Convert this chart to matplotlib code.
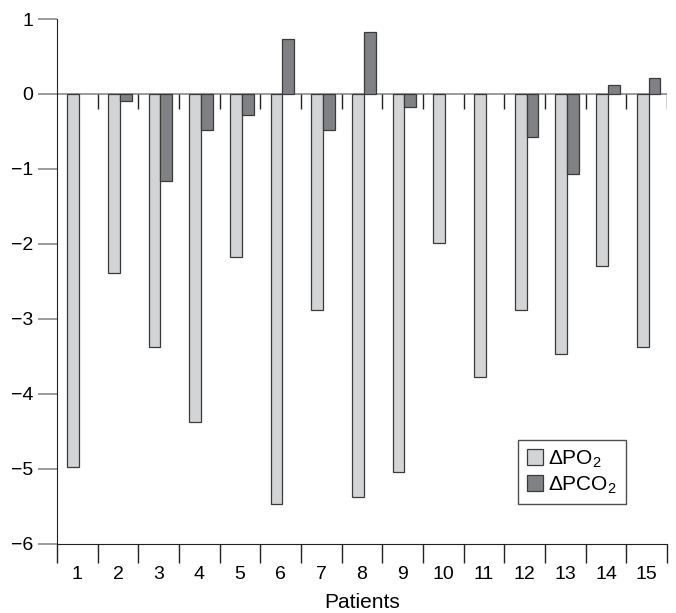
import numpy as np
import matplotlib.pyplot as plt

plt.rcParams['font.family'] = ['Liberation Sans', 'DejaVu Sans']
plt.rcParams['mathtext.fontset'] = 'custom'
plt.rcParams['mathtext.rm'] = 'Liberation Sans'

patients = np.arange(1, 16)
d_po2 = [-4.97, -2.39, -3.38, -4.38, -2.18, -5.47, -2.88, -5.37, -5.04,
         -1.99, -3.78, -2.88, -3.47, -2.29, -3.38]
# nan = no bar drawn (no change)
d_pco2 = [np.nan, -0.09, -1.16, -0.48, -0.28, 0.73, -0.48, 0.83, -0.17,
          np.nan, np.nan, -0.58, -1.07, 0.12, 0.22]

fig = plt.figure(figsize=(6.76, 6.13), dpi=100)
ax = fig.add_axes([0.0843, 0.1126, 0.9024, 0.8564])

w = 0.29
ax.bar(patients - 0.1, d_po2, w, color='#d3d4d6', edgecolor='#3a3a3a',
       linewidth=0.9, label='\u0394PO$_\\mathrm{2}$', zorder=2)
ax.bar(patients - 0.1 + w, d_pco2, w, color='#808184', edgecolor='#3a3a3a',
       linewidth=0.9, label='\u0394PCO$_\\mathrm{2}$', zorder=2)

ax.axhline(0, color='#8a8a8a', linewidth=1.2, zorder=1)
bounds = np.arange(1.5, 16, 1)
ax.vlines(bounds, -0.2, 0, color='#222222', linewidth=1.0, zorder=1)

ax.set_xlim(0.5, 15.5)
ax.set_ylim(-6, 1)
ax.set_yticks(range(-6, 2))
ax.set_yticklabels(['\u2212%d' % -v if v < 0 else str(v) for v in range(-6, 2)])
ax.set_xticks(patients)
ax.set_xticks(np.arange(0.5, 16, 1), minor=True)
ax.tick_params(axis='x', which='major', length=0, labelsize=14, pad=16)
ax.tick_params(axis='x', which='minor', length=14, width=1.0, color='#222222',
               direction='out')
ax.tick_params(axis='y', length=14, width=1.2, color='#8a8a8a', labelsize=14,
               pad=3)

for s in ['top', 'right']:
    ax.spines[s].set_visible(False)
ax.spines['left'].set_color('#222222')
ax.spines['bottom'].set_color('#222222')

ax.set_xlabel('Patients', fontsize=15, labelpad=7)

leg = ax.legend(loc='lower right', bbox_to_anchor=(0.932, 0.076), fontsize=15,
                frameon=True, fancybox=False, edgecolor='#222222',
                handlelength=0.8, handleheight=0.8, handletextpad=0.25,
                borderpad=0.4, labelspacing=0.2, borderaxespad=0)
leg.get_frame().set_linewidth(1.0)

fig.savefig('out.png', dpi=100)
